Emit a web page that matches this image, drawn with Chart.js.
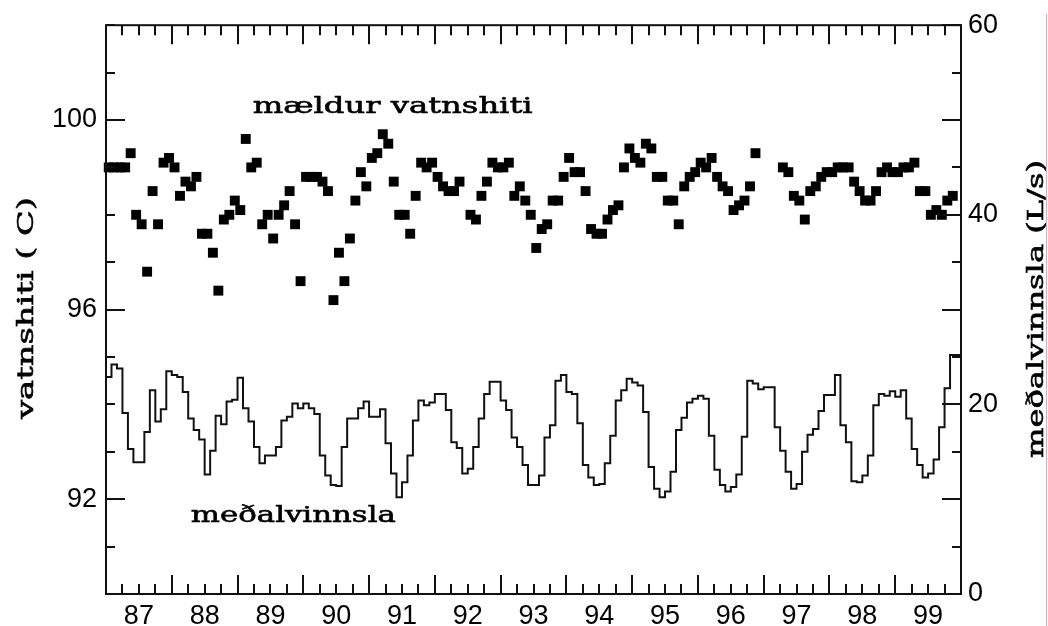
<!DOCTYPE html>
<html>
<head>
<meta charset="utf-8">
<script src="https://cdn.jsdelivr.net/npm/chart.js@4.4.0/dist/chart.umd.min.js"></script>
<style>
  html, body { margin: 0; padding: 0; background: #fff; }
  #wrap { position: relative; width: 1048px; height: 626px; }
  #edge { position: absolute; left: 1046px; top: 14px; width: 1px; height: 612px; background: #f2a3a3; }
</style>
</head>
<body>
<div id="wrap">
  <canvas id="chart1" width="1048" height="626"></canvas>
  <div id="edge"></div>
</div>
<script>
// ár á x-ás (merki í miðju ári)
const startYear = 1987;
const yearLabels = ['87', '88', '89', '90', '91', '92', '93', '94', '95', '96', '97', '98', '99'];
const leftTicks = [92, 96, 100];
const rightTicks = [0, 20, 40, 60];

// mældur vatnshiti, eitt gildi á mánuði (null = vantar mælingu)
const tempVals = [
  99.0, 99.0, 99.0, 99.0, 99.3, 98.0, 97.8, 96.8, 98.5, 97.8, 99.1, 99.2,
  99.0, 98.4, 98.7, 98.6, 98.8, 97.6, 97.6, 97.2, 96.4, 97.9, 98.0, 98.3,
  98.1, 99.6, 99.0, 99.1, 97.8, 98.0, 97.5, 98.0, 98.2, 98.5, 97.8, 96.6,
  98.8, 98.8, 98.8, 98.7, 98.5, 96.2, 97.2, 96.6, 97.5, 98.3, 98.9, 98.6,
  99.2, 99.3, 99.7, 99.5, 98.7, 98.0, 98.0, 97.6, 98.4, 99.1, 99.0, 99.1,
  98.8, 98.6, 98.5, 98.5, 98.7, null, 98.0, 97.9, 98.4, 98.7, 99.1, 99.0,
  99.0, 99.1, 98.4, 98.6, 98.3, 98.0, 97.3, 97.7, 97.8, 98.3, 98.3, 98.8,
  99.2, 98.9, 98.9, 98.5, 97.7, 97.6, 97.6, 97.9, 98.1, 98.2, 99.0, 99.4,
  99.2, 99.1, 99.5, 99.4, 98.8, 98.8, 98.3, 98.3, 97.8, 98.6, 98.8, 98.9,
  99.1, 99.0, 99.2, 98.8, 98.6, 98.5, 98.1, 98.2, 98.3, 98.6, 99.3, null,
  null, null, null, 99.0, 98.9, 98.4, 98.3, 97.9, 98.5, 98.6, 98.8, 98.9,
  98.9, 99.0, 99.0, 99.0, 98.7, 98.5, 98.3, 98.3, 98.5, 98.9, 99.0, 98.9,
  98.9, 99.0, 99.0, 99.1, 98.5, 98.5, 98.0, 98.1, 98.0, 98.3, 98.4, null
];

// meðalvinnsla (L/s), eitt gildi á mánuði
const flowVals = [
  23.4, 22.9, 24.2, 23.8, 19.1, 15.3, 13.9, 13.9, 17.1, 21.5, 18.2, 19.5,
  23.5, 23.1, 22.9, 21.3, 18.5, 17.3, 16.3, 12.6, 15.1, 18.8, 17.9, 20.3,
  20.5, 22.8, 19.6, 18.2, 15.5, 13.8, 14.6, 14.6, 15.5, 18.3, 18.7, 20.1,
  19.6, 20.1, 19.6, 19.0, 14.6, 12.5, 11.5, 11.4, 15.5, 18.5, 18.5, 19.6,
  20.3, 18.7, 18.7, 19.5, 15.9, 12.7, 10.2, 11.8, 14.6, 18.3, 20.4, 19.9,
  20.2, 21.1, 21.1, 19.4, 16.0, 15.4, 12.7, 13.2, 15.5, 18.5, 21.1, 22.4,
  22.4, 20.4, 19.4, 16.5, 15.5, 13.6, 11.5, 11.5, 12.5, 16.5, 17.8, 22.5,
  23.1, 21.3, 21.1, 18.0, 13.6, 12.3, 11.5, 11.6, 13.8, 16.7, 20.4, 21.5,
  22.7, 22.3, 22.0, 19.2, 13.4, 11.1, 10.2, 10.8, 12.9, 17.3, 18.6, 20.2,
  20.6, 20.9, 20.6, 16.7, 13.1, 11.5, 10.8, 11.3, 12.6, 16.6, 22.5, 22.2,
  21.6, 21.8, 21.8, 17.6, 15.1, 12.9, 11.1, 11.6, 15.0, 16.8, 17.4, 19.3,
  21.0, 21.0, 23.1, 17.8, 16.0, 11.9, 11.8, 12.5, 14.6, 19.9, 21.1, 20.9,
  21.4, 20.8, 21.5, 18.5, 15.3, 13.6, 12.3, 12.7, 14.2, 17.6, 21.7, 25.2
];

const leftTitle = 'vatnshiti ( C)';
const rightTitle = 'meðalvinnsla (L/s)';
const tempNote = 'mældur vatnshiti';
const flowNote = 'meðalvinnsla';

const tempPoints = tempVals
  .map((v, i) => ({ x: startYear + (i + 0.5) / 12, y: v }))
  .filter(p => p.y !== null);
const flowPoints = flowVals.map((v, i) => ({ x: startYear + i / 12, y: v }));
flowPoints.push({ x: startYear + flowVals.length / 12, y: flowVals[flowVals.length - 1] });

const serif = '"DejaVu Serif", serif';
const tickFont = { family: '"Liberation Sans", Arial, sans-serif', size: 27 };

// rammi og strik sem snúa inn
const frameTicks = {
  id: 'frameTicks',
  afterDatasetsDraw(chart) {
    const { ctx, chartArea: a, scales: { x, y, y2 } } = chart;
    ctx.save();
    ctx.strokeStyle = '#111';
    ctx.lineWidth = 2;
    ctx.strokeRect(a.left, a.top, a.right - a.left, a.bottom - a.top);
    ctx.beginPath();
    for (let q = x.min * 4; q <= x.max * 4; q++) {
      const px = Math.round(x.getPixelForValue(q / 4));
      const len = q % 4 === 0 ? 19 : 10;
      ctx.moveTo(px, a.bottom); ctx.lineTo(px, a.bottom - len);
      ctx.moveTo(px, a.top); ctx.lineTo(px, a.top + len);
    }
    for (let v = y.min; v <= y.max; v++) {
      const py = Math.round(y.getPixelForValue(v));
      const len = leftTicks.includes(v) ? 19 : 9;
      ctx.moveTo(a.left, py); ctx.lineTo(a.left + len, py);
    }
    for (let v = y2.min; v <= y2.max; v += 5) {
      const py = Math.round(y2.getPixelForValue(v));
      const len = v % 10 === 0 ? 19 : 9;
      ctx.moveTo(a.right, py); ctx.lineTo(a.right - len, py);
    }
    ctx.stroke();
    ctx.restore();
  }
};

// teygir textann lárétt svo hann nái tiltekinni breidd (ritvélaletur)
function wideText(ctx, str, x, y, width, angle) {
  const sx = width / ctx.measureText(str).width;
  ctx.save();
  ctx.translate(x, y);
  ctx.rotate(angle || 0);
  ctx.scale(sx, 1);
  ctx.fillText(str, 0, 0);
  ctx.lineWidth = 0.6;
  ctx.strokeText(str, 0, 0);
  ctx.restore();
}

// ástitlar og skýringartextar
const texts = {
  id: 'texts',
  afterDraw(chart) {
    const { ctx, chartArea: a, scales: { x, y } } = chart;
    ctx.save();
    ctx.fillStyle = '#000';
    ctx.strokeStyle = '#000';
    ctx.font = '23px ' + serif;
    ctx.textAlign = 'left';
    ctx.textBaseline = 'alphabetic';
    wideText(ctx, tempNote, x.getPixelForValue(1989.23), y.getPixelForValue(100.15), 280);
    wideText(ctx, flowNote, x.getPixelForValue(1988.29), y.getPixelForValue(91.52), 205);

    ctx.textAlign = 'center';
    wideText(ctx, leftTitle, 33, 308, 222, -Math.PI / 2);
    wideText(ctx, rightTitle, 1043, 309, 298, -Math.PI / 2);
    ctx.restore();
  }
};

new Chart(document.querySelector('#chart1'), {
  data: {
    datasets: [
      {
        type: 'scatter',
        data: tempPoints,
        yAxisID: 'y',
        pointStyle: 'rect',
        pointRadius: 7,
        backgroundColor: '#000',
        borderWidth: 0,
        clip: false
      },
      {
        type: 'line',
        data: flowPoints,
        yAxisID: 'y2',
        stepped: 'after',
        borderColor: '#111',
        borderWidth: 2,
        pointRadius: 0,
        fill: false
      }
    ]
  },
  options: {
    responsive: false,
    animation: false,
    devicePixelRatio: 1,
    layout: { padding: { top: 24 } },
    plugins: {
      legend: { display: false },
      tooltip: { enabled: false }
    },
    scales: {
      x: {
        type: 'linear',
        position: 'bottom',
        min: startYear,
        max: startYear + yearLabels.length,
        grid: { display: false, drawTicks: false },
        border: { display: false },
        afterBuildTicks: s => { s.ticks = yearLabels.map((_, i) => ({ value: startYear + i + 0.5 })); },
        afterFit: s => { s.height = 32; },
        ticks: {
          callback: (v, i) => yearLabels[i],
          autoSkip: false,
          maxRotation: 0,
          padding: 6,
          color: '#000',
          font: tickFont
        }
      },
      y: {
        type: 'linear',
        position: 'left',
        min: 90,
        max: 102,
        grid: { display: false, drawTicks: false },
        border: { display: false },
        afterBuildTicks: s => { s.ticks = leftTicks.map(v => ({ value: v })); },
        afterFit: s => { s.width = 106; },
        ticks: { padding: 9, color: '#000', font: tickFont }
      },
      y2: {
        type: 'linear',
        position: 'right',
        min: 0,
        max: 60,
        grid: { display: false, drawTicks: false },
        border: { display: false },
        afterBuildTicks: s => { s.ticks = rightTicks.map(v => ({ value: v })); },
        afterFit: s => { s.width = 87; },
        ticks: { padding: 7, color: '#000', font: tickFont }
      }
    }
  },
  plugins: [frameTicks, texts]
});
</script>
</body>
</html>
